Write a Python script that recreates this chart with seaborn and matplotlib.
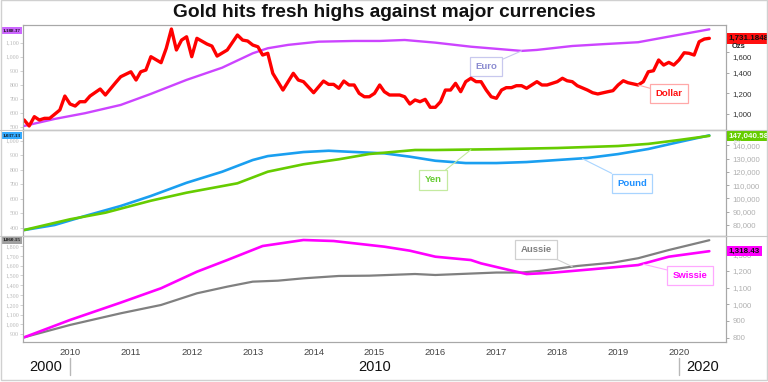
import pandas as pd
import matplotlib
matplotlib.use("Agg")
import matplotlib.pyplot as plt
import matplotlib.dates as mdates
import matplotlib.transforms as mtransforms
from matplotlib.lines import Line2D
from matplotlib.patches import Rectangle
import seaborn as sns

# ------------------------------
# Data
# ------------------------------
dollar_dates = ["2009-04", "2009-05", "2009-06", "2009-07", "2009-08", "2009-09", "2009-11", "2009-12",
                "2010-01", "2010-02", "2010-03", "2010-04", "2010-05", "2010-07", "2010-08", "2010-10",
                "2010-11", "2011-01", "2011-02", "2011-03", "2011-04", "2011-05", "2011-07", "2011-08",
                "2011-09", "2011-10", "2011-11", "2011-12", "2012-01", "2012-02", "2012-04", "2012-05",
                "2012-06", "2012-08", "2012-10", "2012-11", "2012-12", "2013-01", "2013-02", "2013-03",
                "2013-04", "2013-05", "2013-07", "2013-09", "2013-10", "2013-11", "2014-01", "2014-03",
                "2014-04", "2014-05", "2014-06", "2014-07", "2014-08", "2014-09", "2014-10", "2014-11",
                "2014-12", "2015-01", "2015-02", "2015-03", "2015-04", "2015-06", "2015-07", "2015-08",
                "2015-09", "2015-10", "2015-11", "2015-12", "2016-01", "2016-02", "2016-03", "2016-04",
                "2016-05", "2016-06", "2016-07", "2016-08", "2016-09", "2016-10", "2016-11", "2016-12",
                "2017-01", "2017-02", "2017-03", "2017-04", "2017-05", "2017-06", "2017-07", "2017-08",
                "2017-09", "2017-10", "2017-11", "2018-01", "2018-02", "2018-03", "2018-04", "2018-05",
                "2018-07", "2018-08", "2018-09", "2018-11", "2018-12", "2019-01", "2019-02", "2019-03",
                "2019-05", "2019-06", "2019-07", "2019-08", "2019-09", "2019-10", "2019-11", "2019-12",
                "2020-01", "2020-02", "2020-03", "2020-04", "2020-05", "2020-06", "2020-07"]
dollar_vals = [942, 884, 974, 942, 958, 958, 1039, 1174,
               1097, 1077, 1119, 1119, 1174, 1242, 1184, 1303,
               1361, 1409, 1329, 1409, 1426, 1555, 1497, 1636,
               1823, 1620, 1716, 1748, 1555, 1733, 1678, 1658,
               1561, 1620, 1765, 1716, 1707, 1668, 1651, 1571,
               1588, 1394, 1232, 1394, 1329, 1313, 1206, 1319,
               1287, 1287, 1249, 1319, 1281, 1281, 1200, 1167,
               1167, 1200, 1281, 1216, 1184, 1184, 1167, 1097,
               1136, 1119, 1142, 1065, 1065, 1119, 1232, 1232,
               1297, 1216, 1313, 1346, 1313, 1313, 1232, 1167,
               1152, 1232, 1255, 1255, 1274, 1274, 1249, 1281,
               1313, 1281, 1281, 1313, 1346, 1322, 1313, 1274,
               1232, 1206, 1194, 1216, 1226, 1281, 1322, 1303,
               1281, 1313, 1409, 1419, 1523, 1474, 1500, 1474,
               1523, 1593, 1588, 1571, 1700, 1726, 1733]

euro_dates = ["2009-04", "2009-10", "2010-04", "2010-11", "2011-05", "2011-12", "2012-07", "2013-01",
              "2013-04", "2013-08", "2014-02", "2014-09", "2015-02", "2015-07", "2016-01", "2016-08",
              "2017-06", "2017-09", "2018-04", "2018-10", "2019-05", "2019-11", "2020-07"]
euro_vals = [505, 555, 596, 655, 734, 834, 921, 1024,
             1060, 1084, 1107, 1112, 1112, 1119, 1100, 1071,
             1041, 1048, 1076, 1089, 1103, 1143, 1195]

pound_dates = ["2009-04", "2009-10", "2010-04", "2010-11", "2011-05", "2011-12", "2012-07", "2013-01",
               "2013-04", "2013-11", "2014-04", "2014-08", "2015-03", "2015-08", "2016-01", "2016-07",
               "2017-01", "2017-07", "2018-01", "2018-07", "2019-01", "2019-07", "2020-01", "2020-07"]
pound_vals = [384, 419, 481, 550, 619, 710, 786, 867,
              894, 922, 931, 924, 913, 890, 862, 846,
              846, 853, 867, 881, 908, 943, 991, 1037]

yen_dates = ["2009-04", "2010-01", "2010-08", "2011-05", "2011-12", "2012-10", "2013-04", "2013-11",
             "2014-06", "2014-12", "2015-03", "2015-09", "2016-01", "2017-01", "2018-01", "2019-01",
             "2019-07", "2020-01", "2020-07"]
yen_vals = [76240, 84290, 89250, 98270, 104290, 111360, 120080, 125650,
            129410, 133390, 134370, 136400, 136400, 137000, 137900, 139400,
            141000, 143900, 147040]

aussie_dates = ["2009-04", "2010-01", "2010-11", "2011-07", "2012-02", "2012-08", "2013-01", "2013-06",
                "2013-11", "2014-06", "2014-12", "2015-09", "2016-01", "2017-01", "2017-06", "2017-10",
                "2018-05", "2018-12", "2019-05", "2019-11", "2020-07"]
aussie_vals = [869, 995, 1114, 1199, 1318, 1386, 1437, 1447,
               1471, 1495, 1498, 1515, 1505, 1530, 1530, 1549,
               1597, 1631, 1676, 1760, 1860]

swissie_dates = ["2009-04", "2010-01", "2010-11", "2011-07", "2012-02", "2012-08", "2013-03", "2013-11",
                 "2014-05", "2015-03", "2015-08", "2016-01", "2016-08", "2016-10", "2017-02", "2017-07",
                 "2017-12", "2018-08", "2019-05", "2019-11", "2020-07"]
swissie_vals = [802, 906, 1010, 1096, 1195, 1265, 1349, 1385,
                1379, 1345, 1321, 1285, 1265, 1245, 1216, 1181,
                1189, 1210, 1235, 1285, 1318]

year_ticks = [str(y) for y in range(2010, 2021)]
decade_labels = ["2000", "2010", "2020"]

# ------------------------------
# Figure
# ------------------------------
sns.set_style("white")
plt.rcParams["font.family"] = ["Liberation Sans", "DejaVu Sans"]

W, H = 768, 382
fig = plt.figure(figsize=(W / 100, H / 100), dpi=100)


def panel(top, bottom):
    return [23 / W, 1 - bottom / H, 703 / W, (bottom - top) / H]


def dnum(s):
    return mdates.date2num(pd.Timestamp(s))


ax1 = fig.add_axes(panel(25, 130))
ax2 = fig.add_axes(panel(130, 236))
ax3 = fig.add_axes(panel(236, 342))
ax1r, ax2r, ax3r = ax1.twinx(), ax2.twinx(), ax3.twinx()

to_dt = pd.to_datetime
sns.lineplot(x=to_dt(euro_dates), y=euro_vals, ax=ax1, color="#cc44ff", lw=1.7, estimator=None)
sns.lineplot(x=to_dt(dollar_dates), y=dollar_vals, ax=ax1r, color="#ff0000", lw=2.4, estimator=None)
sns.lineplot(x=to_dt(pound_dates), y=pound_vals, ax=ax2, color="#1a9ff0", lw=1.9, estimator=None)
sns.lineplot(x=to_dt(yen_dates), y=yen_vals, ax=ax2r, color="#66cc00", lw=1.9, estimator=None)
sns.lineplot(x=to_dt(aussie_dates), y=aussie_vals, ax=ax3, color="#808080", lw=1.6, estimator=None)
sns.lineplot(x=to_dt(swissie_dates), y=swissie_vals, ax=ax3r, color="#ff00ff", lw=1.9, estimator=None)

xlim = (dnum("2009-03-25"), dnum("2020-10-09"))
ax1.set_ylim(476, 1226)
ax1r.set_ylim(845, 1862)
ax2.set_ylim(343, 1074)
ax2r.set_ylim(71730, 151440)
ax3.set_ylim(821, 1903)
ax3r.set_ylim(774, 1409)

left_ticks = {ax1: range(500, 1101, 100), ax2: range(400, 1001, 100), ax3: range(900, 1801, 100)}
right_ticks = {ax1r: range(1000, 1601, 200), ax2r: range(80000, 140001, 10000), ax3r: range(800, 1301, 100)}

for ax in (ax1, ax2, ax3, ax1r, ax2r, ax3r):
    ax.set_xlim(*xlim)
    ax.set_xlabel("")
    ax.set_ylabel("")
    ax.set_xticks([])
    for s in ax.spines.values():
        s.set_color("#a8a8a8")
        s.set_linewidth(0.8)

for ax, t in left_ticks.items():
    ax.set_yticks(list(t))
    ax.set_yticklabels([f"{v:,}" for v in t], family="Liberation Serif", fontsize=4.3, color="#b8b8b8")
    ax.tick_params(axis="y", length=2, width=0.5, color="#c0c0c0", pad=1)

for ax, t in right_ticks.items():
    ax.set_yticks(list(t))
    ax.set_yticklabels([f"{v:,}" for v in t], fontsize=5.6, color="#b0b0b0")
    ax.tick_params(axis="y", length=2.5, width=0.6, color="#999999", pad=2)
for lab in ax1r.get_yticklabels():
    lab.set_color("#333333")
# the 1,600 label sits a little lower, under the "Ozs" unit
top_lab = ax1r.get_yticklabels()[-1]
top_lab.set_transform(top_lab.get_transform() + mtransforms.ScaledTranslation(0, -3 / 72, fig.dpi_scale_trans))

# year ticks + decade row
ax3.set_xticks([dnum(y + "-01-01") for y in year_ticks])
ax3.set_xticklabels(year_ticks, fontsize=6.8, color="#444444")
ax3.tick_params(axis="x", length=0, pad=4)

bx = mtransforms.blended_transform_factory(ax3.transData, fig.transFigure)
dec_x = [dnum("2009-08-10"), dnum("2015-01-01"), dnum("2020-05-20")]
for lab, x in zip(decade_labels, dec_x):
    fig.text(x, 1 - 367 / H, lab, transform=bx, ha="center", va="center", fontsize=10.5, color="#111111")
for x in (dnum("2010-01-01"), dnum("2020-01-01")):
    fig.add_artist(Line2D([x, x], [1 - 358 / H, 1 - 375 / H], transform=bx, color="#b8b8b8", lw=1))

# separators and frame
for yy in (130, 236):
    fig.add_artist(Line2D([0, 1], [1 - yy / H] * 2, transform=fig.transFigure, color="#c8c8c8", lw=0.8))
fig.add_artist(Rectangle((0.001, 0.004), 0.998, 0.995, transform=fig.transFigure, fill=False,
                         ec="#d0d0d0", lw=1))


# value boxes on the axes
def value_box(ax, val, txt, fc, side, tc="#111111"):
    tr = mtransforms.blended_transform_factory(ax.transAxes, ax.transData)
    if side == "left":
        ax.text(-0.003, val, txt, transform=tr, ha="right", va="center", fontsize=3.7,
                family="Liberation Serif", fontweight="bold", color=tc, clip_on=False,
                bbox=dict(boxstyle="square,pad=0.3", fc=fc, ec="none"), zorder=10)
    else:
        ax.text(1.004, val, txt, transform=tr, ha="left", va="center", fontsize=5.8, fontweight="bold",
                color=tc, clip_on=False, bbox=dict(boxstyle="square,pad=0.2", fc=fc, ec="none"), zorder=10)


value_box(ax1, euro_vals[-1] - 7, "1,188.37", "#cc66ff", "left")
value_box(ax2, pound_vals[-1], "1,037.13", "#33aaff", "left")
value_box(ax3, aussie_vals[-1], "1,860.15", "#a0a0a0", "left")
value_box(ax1r, 1731, "1,731.1848", "#ff1010", "right")
value_box(ax2r, yen_vals[-1], "147,040.58", "#66cc00", "right", tc="#f4fff0")
value_box(ax3r, swissie_vals[-1], "1,318.43", "#ff00ff", "right")
fig.text(732 / W, 1 - 47 / H, "Ozs", fontsize=5.5, fontweight="bold", color="#222222", va="center")
fig.text(733 / W, 1 - 142.5 / H, "JPY", fontsize=3.5, color="#cccccc", va="center")


# series tags with leader lines
def tag(ax, text, date, val, box, tc, ec):
    ax.annotate(text, xy=(dnum(date), val), xycoords="data", xytext=(box[0], H - box[1]),
                textcoords="figure pixels", ha="center", va="center", fontsize=6.8, fontweight="bold",
                color=tc, bbox=dict(boxstyle="square,pad=0.55", fc="white", ec=ec, lw=0.9),
                arrowprops=dict(arrowstyle="-", color=ec, lw=0.8, shrinkA=0, shrinkB=0), zorder=12,
                annotation_clip=False)


tag(ax1, "Euro", "2017-06-01", 1041, (486, 66.5), "#8a8ad0", "#c8c8ee")
tag(ax1r, "Dollar", "2019-05-01", 1281, (669, 93.5), "#ff1010", "#ffa8a8")
tag(ax2r, "Yen", "2016-08-01", 136600, (433, 180), "#66cc33", "#c4eaa0")
tag(ax2, "Pound", "2018-06-01", 876, (632, 183.5), "#1e90ff", "#a8d4ff")
tag(ax3, "Aussie", "2018-04-01", 1590, (536, 249.5), "#808080", "#d0d0d0")
tag(ax3r, "Swissie", "2019-06-01", 1240, (690, 275.5), "#ff00ff", "#ffa8ff")

fig.text(0.5, 1 - 12.5 / H, "Gold hits fresh highs against major currencies", ha="center", va="center",
         fontsize=13.8, fontweight="bold", color="#111111")

fig.savefig("out.png", dpi=100)
